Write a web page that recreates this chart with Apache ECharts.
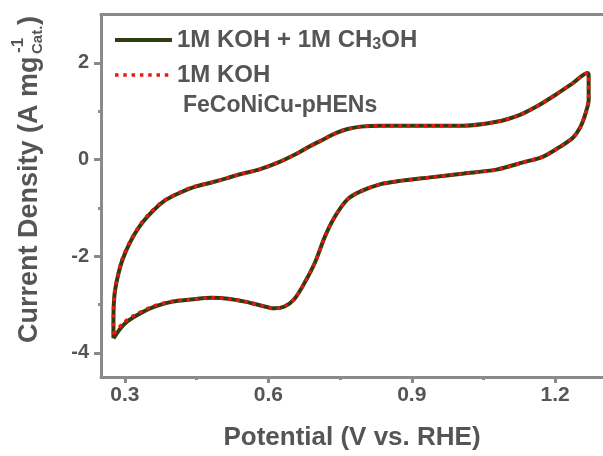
<!DOCTYPE html>
<html>
<head>
<meta charset="utf-8">
<script src="https://cdn.jsdelivr.net/npm/echarts@6/dist/echarts.min.js"></script>
<style>
  html, body { margin: 0; padding: 0; background: #fff; }
  #chart { width: 603px; height: 456px; }
</style>
</head>
<body>
<div id="chart"></div>
<script>
// Cyclic voltammogram of FeCoNiCu-pHENs, potential in V vs. RHE, current density in A mg-1
// Forward (anodic) scan, low to high potential
const anodicPotential = [0.276, 0.276, 0.278, 0.284, 0.294, 0.311, 0.331, 0.352, 0.379, 0.408, 0.441,
  0.483, 0.512, 0.539, 0.580, 0.621, 0.663, 0.684, 0.704, 0.722, 0.740, 0.766, 0.793, 0.835, 0.870,
  0.938, 1.009, 1.077, 1.125, 1.160, 1.201, 1.237, 1.268];
const anodicMethanol = [-3.70, -3.29, -2.82, -2.47, -2.10, -1.71, -1.38, -1.13, -0.88, -0.72, -0.58,
  -0.47, -0.39, -0.31, -0.21, -0.06, 0.14, 0.26, 0.36, 0.45, 0.54, 0.63, 0.68, 0.70, 0.70,
  0.70, 0.70, 0.78, 0.92, 1.09, 1.34, 1.58, 1.79];
const anodicKOH = [-3.62, -3.26, -2.79, -2.44, -2.07, -1.69, -1.36, -1.11, -0.87, -0.71, -0.57,
  -0.47, -0.39, -0.31, -0.21, -0.06, 0.14, 0.26, 0.36, 0.45, 0.54, 0.63, 0.68, 0.70, 0.70,
  0.70, 0.70, 0.78, 0.92, 1.09, 1.34, 1.58, 1.79];

// Reverse (cathodic) scan, high to low potential
const cathodicPotential = [1.270, 1.270, 1.270, 1.264, 1.253, 1.237, 1.208, 1.175, 1.133, 1.077, 1.009,
  0.938, 0.870, 0.835, 0.793, 0.766, 0.740, 0.719, 0.698, 0.677, 0.655, 0.634, 0.613, 0.584,
  0.551, 0.516, 0.483, 0.433, 0.400, 0.358, 0.317, 0.296, 0.276];
const cathodicMethanol = [1.75, 1.64, 1.23, 0.97, 0.68, 0.45, 0.25, 0.06, -0.06, -0.21, -0.29,
  -0.37, -0.45, -0.51, -0.66, -0.82, -1.17, -1.58, -2.12, -2.53, -2.88, -3.04, -3.08, -3.02,
  -2.94, -2.88, -2.86, -2.90, -2.94, -3.06, -3.27, -3.43, -3.70];
const cathodicKOH = [1.75, 1.64, 1.23, 0.97, 0.68, 0.45, 0.25, 0.06, -0.06, -0.21, -0.29,
  -0.37, -0.45, -0.51, -0.66, -0.82, -1.17, -1.58, -2.12, -2.53, -2.88, -3.04, -3.08, -3.02,
  -2.94, -2.88, -2.86, -2.90, -2.93, -3.04, -3.24, -3.39, -3.62];

// Axis ticks
const xMajorTicks = [0.3, 0.6, 0.9, 1.2];
const xMinorTicks = [0.45, 0.75, 1.05];
const yMajorTicks = [-4, -2, 0, 2];
const yMinorTicks = [-3, -1, 1];

const seriesNames = ['1M KOH + 1M CH3OH', '1M KOH'];

function loop(pA, jA, pC, jC) {
  const pts = pA.map((p, i) => [p, jA[i]]);
  pC.forEach((p, i) => pts.push([p, jC[i]]));
  return pts;
}

const FONT = '"Liberation Sans", Arial, sans-serif';
const TEXT = '#555555';
const AXIS = '#8a8a8a';
const GREEN = '#2e3d10';
const RED = '#e8170f';

const methanolLine = { color: GREEN, width: 4 };
const kohLine = { color: RED, width: 3.5, type: [3.5, 4.8] };

const chart = echarts.init(document.getElementById('chart'), null, { renderer: 'canvas' });

const xRange = { min: 0.25, max: 1.3 };
const yRange = { min: -4.5, max: 3 };

chart.setOption({
  animation: false,
  backgroundColor: '#ffffff',
  grid: { left: 101, top: 14.5, width: 507, height: 364.5, containLabel: false },
  legend: {
    orient: 'vertical',
    left: 113,
    top: 28,
    padding: 0,
    itemWidth: 57,
    itemHeight: 14,
    itemGap: 10,
    data: [
      { name: seriesNames[0], lineStyle: methanolLine },
      { name: seriesNames[1], lineStyle: kohLine }
    ],
    itemStyle: { opacity: 0 },
    formatter: function (name) {
      if (name === seriesNames[0]) return '{a|1M KOH + 1M CH}{s|3}{a|OH}';
      return '{a|' + name + '}';
    },
    textStyle: {
      rich: {
        a: { fontFamily: FONT, fontWeight: 'bold', fontSize: 24, color: TEXT, lineHeight: 26 },
        s: { fontFamily: FONT, fontWeight: 'bold', fontSize: 16, color: TEXT, lineHeight: 14, verticalAlign: 'bottom' }
      }
    }
  },
  xAxis: [
    {
      type: 'value', gridIndex: 0, position: 'bottom', min: xRange.min, max: xRange.max,
      axisLine: { show: true, onZero: false, lineStyle: { color: AXIS, width: 3 } },
      axisTick: { show: true, customValues: xMajorTicks, length: 6, lineStyle: { color: AXIS, width: 3 } },
      axisLabel: {
        customValues: xMajorTicks, margin: 8,
        formatter: v => v.toFixed(1),
        fontFamily: FONT, fontWeight: 'bold', fontSize: 21, color: TEXT
      },
      splitLine: { show: false },
      name: 'Potential (V vs. RHE)', nameLocation: 'middle', nameGap: 48,
      nameTextStyle: { fontFamily: FONT, fontWeight: 'bold', fontSize: 26, color: TEXT }
    },
    {
      type: 'value', gridIndex: 0, position: 'bottom', min: xRange.min, max: xRange.max,
      axisLine: { show: false, onZero: false },
      axisTick: { show: true, customValues: xMinorTicks, length: 3, lineStyle: { color: AXIS, width: 3 } },
      axisLabel: { show: false },
      splitLine: { show: false }
    },
    {
      type: 'value', gridIndex: 0, position: 'top', min: xRange.min, max: xRange.max,
      axisLine: { show: true, onZero: false, lineStyle: { color: AXIS, width: 3 } },
      axisTick: { show: false }, axisLabel: { show: false }, splitLine: { show: false }
    }
  ],
  yAxis: [
    {
      type: 'value', gridIndex: 0, position: 'left', min: yRange.min, max: yRange.max,
      axisLine: { show: true, onZero: false, lineStyle: { color: AXIS, width: 3 } },
      axisTick: { show: true, customValues: yMajorTicks, length: 7, lineStyle: { color: AXIS, width: 3 } },
      axisLabel: {
        customValues: yMajorTicks, margin: 12,
        fontFamily: FONT, fontWeight: 'bold', fontSize: 20, color: TEXT
      },
      splitLine: { show: false }
    },
    {
      type: 'value', gridIndex: 0, position: 'left', min: yRange.min, max: yRange.max,
      axisLine: { show: false, onZero: false },
      axisTick: { show: true, customValues: yMinorTicks, length: 3, lineStyle: { color: AXIS, width: 3 } },
      axisLabel: { show: false },
      splitLine: { show: false }
    }
  ],
  graphic: [
    {
      type: 'group', x: 30, y: 343, rotation: Math.PI / 2,
      children: [
        { type: 'text', x: 0, y: 0, style: { text: 'Current Density (A mg', fontFamily: FONT, fontWeight: 'bold', fontSize: 27, fill: TEXT, align: 'left', verticalAlign: 'middle' } },
        { type: 'text', x: 290, y: -12, style: { text: '-1', fontFamily: FONT, fontWeight: 'bold', fontSize: 17, fill: TEXT, align: 'left', verticalAlign: 'middle' } },
        { type: 'text', x: 289, y: 8, style: { text: 'Cat.', fontFamily: FONT, fontWeight: 'bold', fontSize: 15, fill: TEXT, align: 'left', verticalAlign: 'middle' } },
        { type: 'text', x: 318, y: 0, style: { text: ')', fontFamily: FONT, fontWeight: 'bold', fontSize: 27, fill: TEXT, align: 'left', verticalAlign: 'middle' } }
      ]
    },
    {
      type: 'text', left: 183, top: 94,
      style: { text: 'FeCoNiCu-pHENs', fontFamily: FONT, fontWeight: 'bold', fontSize: 23, fill: TEXT }
    }
  ],
  series: [
    {
      name: seriesNames[0], type: 'line', xAxisIndex: 0, yAxisIndex: 0,
      data: loop(anodicPotential, anodicMethanol, cathodicPotential, cathodicMethanol),
      symbol: 'none', smooth: 0.3,
      lineStyle: methanolLine,
      itemStyle: { color: GREEN },
      z: 2
    },
    {
      name: seriesNames[1], type: 'line', xAxisIndex: 0, yAxisIndex: 0,
      data: loop(anodicPotential, anodicKOH, cathodicPotential, cathodicKOH),
      symbol: 'none', smooth: 0.3,
      lineStyle: kohLine,
      itemStyle: { color: RED },
      z: 3
    }
  ]
});
</script>
</body>
</html>
